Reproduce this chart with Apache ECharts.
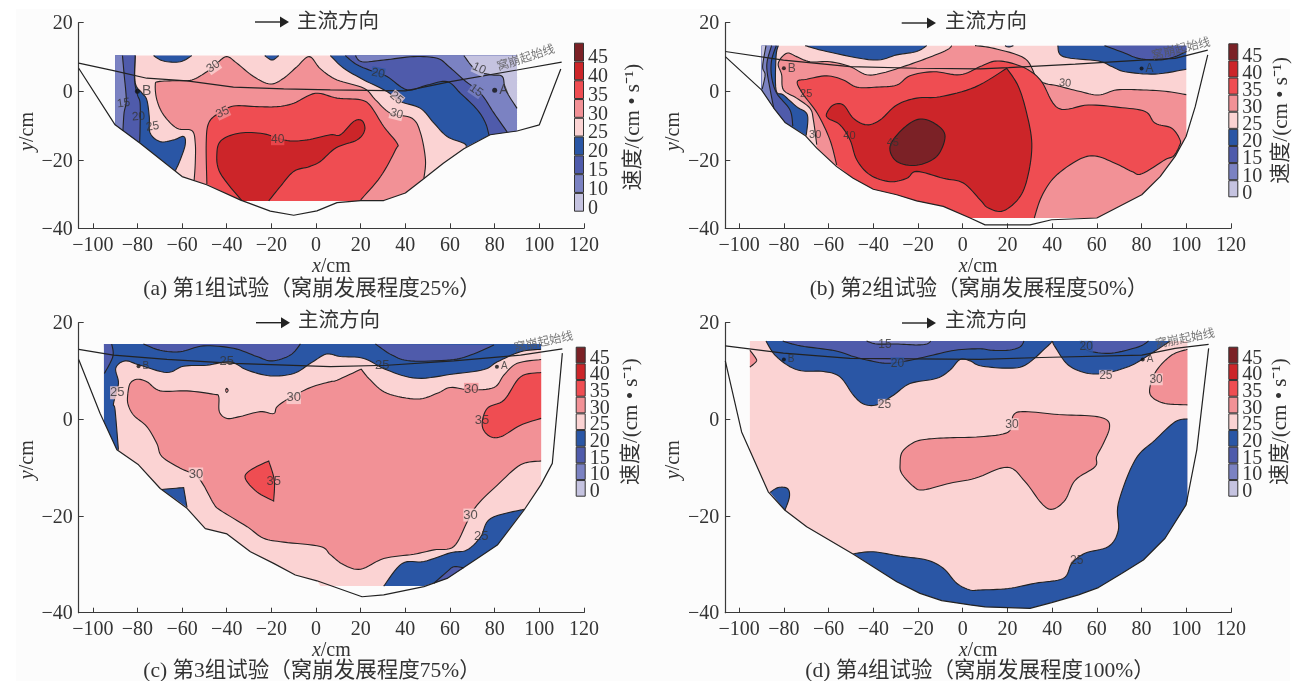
<!DOCTYPE html>
<html><head><meta charset="utf-8">
<style>html,body{margin:0;padding:0;background:#fff}#c{width:1305px;height:681px}</style>
<script src="https://cdn.jsdelivr.net/npm/echarts@6/dist/echarts.min.js"></script>
</head><body><div id="c"></div>
<script>
const legendLabels=['0','10','15','20','25','30','35','40','45'];
const legendValues=[1,1,1,1,1,1,1,1,1];
const bandColors={'0':'#c5c3e0','10':'#7b82c2','15':'#4f5bab','20':'#2a56a5','25':'#fbd3d3','30':'#f29196','35':'#ef4d52','40':'#cc2529','45':'#7b2126'};
const xTicks=[-100,-80,-60,-40,-20,0,20,40,60,80,100,120];
const captions=['(a) 第1组试验（窝崩发展程度25%）','(b) 第2组试验（窝崩发展程度50%）','(c) 第3组试验（窝崩发展程度75%）','(d) 第4组试验（窝崩发展程度100%）'];

/* ---------- panel a ---------- */
const a_section=[[-106.3,6.7],[-90,-9.8],[-78.8,-15.2],[-60,-24.9],[-49,-27.3],[-34,-31.7],[-20.5,-35],[-10,-36.2],[0.4,-34.9],[9.4,-32.5],[20,-31.9],[30.3,-31.9],[40,-29.7],[47.5,-25.9],[57,-21],[66.2,-16.8],[78,-12.7],[90,-11.6],[100,-9.8],[109.6,6.5]];
const a_start=[[-106.3,8.2],[-90.7,6],[-75.8,3.8],[-57.8,3],[-37,1.2],[-14.5,0.7],[6.4,0.4],[40,0.1],[60.2,2.8],[90,6.2],[110,8.5]];
const a_base=[[-90,10.4],[90,10.4],[90,-11.6],[78,-12.7],[66.2,-16.8],[57,-21],[47.5,-25.9],[40,-29.7],[30.3,-31.9],[20,-32],[-33,-32],[-49,-27.3],[-60,-24.9],[-78.8,-15.2],[-90,-9.8]];
const a_l25=[[-81,10.4],[-81,2.5],[-78,-0.5],[-75.8,-2.5],[-74.7,-7.4],[-74.3,-12.2],[-69.8,-14.7],[-63.8,-14.2],[-59.3,-13.2],[-58.6,-15.6],[-60.8,-20],[-63,-23.2]];
const a_l20=[[-81,10.4],[-81.3,3.3],[-80,-1],[-78.8,-3.5],[-78.8,-10.3],[-79,-14.9]];
const a_l15=[[-86.7,10.4],[-86,5.2],[-85,-2.5],[-86,-6.4],[-86.5,-11.6]];
const a_leftEdge25=[[-78.8,-15.2],[-90,-9.8],[-90,10.4]];
const a_leftEdge=[[-90,-9.8],[-90,10.4]];
const a_top1=[[-72.8,10.4],[-68.3,8.8],[-60.8,8.6],[-55.6,10.4]];
const a_top2=[[-23,10.4],[-19.7,9.1],[-16.7,10.4]];
const a_r25=[[6.4,10.4],[12.4,6.7],[21.4,3.3],[31.8,-0.1],[37.8,-3],[46.8,-5],[52.8,-9.3],[58.7,-13.2],[66.2,-15.2],[67.3,-16.2]];
const a_r25Edge=[[78,-12.7],[90,-11.6],[90,10.4]];
const a_r20=[[13.1,10.4],[18.4,7.7],[25.9,5.7],[31.8,4.3],[40.8,0.4],[49.8,1.8],[58.7,2.8],[64.7,-0.6],[72.2,-5.4],[75.9,-9.3],[77.4,-12.7]];
const a_r15=[[17.6,10.4],[20.6,8.6],[30.3,9.1],[43.8,10.1],[54.3,9.6],[59.5,7.2],[66.2,3.3],[73.7,-0.6],[79.7,-6.4],[85.6,-11.9]];
const a_r10=[[66.2,10.4],[71.5,6.2],[78.2,4.8],[83.4,4.3],[84.9,0.4],[90,-5]];
const a_rEdge=[[90,-11.6],[90,10.4]];
const a_rEdge10=[[90,10.4]];
const a_l30=[[-54.6,-26],[-54.1,-21],[-54.1,-15.2],[-55.6,-11.5],[-62.3,-10.8],[-68.3,-6.9],[-71.3,-2.5],[-72,1.8],[-70.6,2.8],[-62.3,3.1],[-55.6,3.3],[-48.9,5.7],[-44.4,8.2],[-40,10.1],[-35.5,8.2],[-28,4.3],[-20.5,2.1],[-14.5,3.8],[-8.5,7.2],[-3,10.1],[2,6.5],[9.4,3.3],[21.4,0.9],[26.6,-2.5],[33.3,-6.4],[43,-7.9],[46.8,-12.2],[49,-20],[48.3,-25.4]];
const a_e30=[[40,-29.7],[30.3,-31.9],[20,-32],[-33,-32],[-49,-27.3]];
const a_l35=[[-48.9,-27.1],[-49.2,-15.2],[-48.1,-9.3],[-43.6,-6.4],[-36.9,-4.3],[-26.5,-4.5],[-17.5,-4.5],[-10,-3.5],[-0.3,-0.6],[9.4,-2],[19.9,-2.5],[24.4,-4.3],[30.3,-10.3],[36.3,-15.2],[35.6,-17.1],[28.9,-24.9],[20,-31.7]];
const a_e35=[[20,-32],[-33,-32]];
const a_l40=[[-33.2,-32],[-42.9,-23.9],[-44.4,-18],[-42.2,-14.2],[-33.9,-12.2],[-23.5,-12.4],[-13,-14.4],[-4,-14.2],[6.4,-12.7],[10.9,-12.7],[16.9,-8.8],[20.6,-8.6],[21.8,-11.3],[18.4,-14.2],[9,-16.5],[1.9,-20.5],[-3,-22],[-10,-23.4],[-16,-27.8],[-21.2,-32]];
const a_labels=[[73,6.6,'10',-25,'0'],[71.7,0.2,'15',-35,'10'],[27.8,5.2,'20',-10,'20'],[36,-2,'25',-40,'25'],[36,-6.6,'30',-15,'25'],[-86.2,-3.5,'15',8,null],[-79.5,-7.4,'20',5,null],[-73.2,-10.3,'25',8,null],[-46,7.2,'30',35,'25'],[-41.8,-6.2,'35',25,'30'],[-17.2,-14,'40',0,'35']];
const a_points=[[80,0.3,'A'],[-80,0,'B']];

/* ---------- panel b ---------- */
const b_section=[[-106.2,10.1],[-90,0.4],[-84,-5.4],[-79.5,-9.1],[-70.5,-12.9],[-65.3,-16.6],[-56.4,-22],[-49,-25.4],[-40,-28.6],[-29.5,-30.2],[-20.6,-32],[-8.7,-33.6],[3.3,-37],[10,-39],[30.1,-39],[39.8,-37.5],[60,-37],[80.1,-30.2],[88.3,-24.9],[95,-19],[99.9,-13.2],[104,-4.5],[109.6,10.6]];
const b_start=[[-106.2,11.6],[-80.2,9.1],[-50.4,7.2],[-20.6,6.7],[7.8,6.5],[20.4,6.9],[50.3,7.9],[80.1,9.1],[95,9.6],[109.6,12]];
const b_base=[[-90,13.3],[100,13.3],[100,-13.2],[95,-19],[88.3,-24.9],[80.1,-30.2],[60,-37],[3.3,-37],[-8.7,-33.6],[-20.6,-32],[-29.5,-30.2],[-40,-28.6],[-49,-25.4],[-56.4,-22],[-65.3,-16.6],[-70.5,-12.9],[-79.5,-9.1],[-84,-5.4],[-90,0.4]];
const b_l25=[[-82.5,13.3],[-83.5,10.1],[-83.5,0.4],[-80.2,-1.1],[-74.3,-4.5],[-69.5,-6.9],[-70,-12.9]];
const b_e25=[[-79.5,-9.1],[-84,-5.4],[-90,0.4],[-90,13.3]];
const b_l20=[[-83.4,13.3],[-85.5,9],[-85.5,4.3],[-83.2,-0.6],[-77.3,-5.4],[-76,-10.2]];
const b_e20=[[-79.5,-9.1],[-84,-5.4],[-90,0.4],[-90,13.3]];
const b_l15=[[-85.5,13.3],[-87.4,9],[-87.5,5.7],[-86,0],[-84.5,-5]];
const b_e15=[[-90,0.4],[-90,13.3]];
const b_l10=[[-88,13.3],[-89.5,7.2],[-88.4,4.8],[-89.7,0.6]];
const b_e10=[[-90,13.3]];
const b_top1=[[-70.5,13.3],[-60.9,11.6],[-40,9.1],[-29.5,10.6],[-20.6,11.6],[-16.1,13.3]];
const b_top2=[[18.9,13.3],[20.5,12.9],[22.7,13.3]];
const b_r25=[[42.5,13.3],[45,10.1],[60.7,8.8],[66.7,7.2],[72.6,5.7],[86,5],[100,6.4]];
const b_re=[[100,13.3]];
const b_r20=[[63.4,13.3],[72.6,11.1],[78.6,9.6],[87.6,9.1],[95,10.1],[100,11.6]];
const b_l30=[[-4.9,13.3],[-7.2,12],[-16.1,9.6],[-26.5,7.2],[-35.5,5.4],[-43,4.8],[-50.4,7.2],[-59.4,8.6],[-68.3,8.6],[-74.3,10.1],[-78.7,11.1],[-82.5,8.2],[-81,4.8],[-80.2,0.4],[-74.3,-2],[-68.3,-5],[-66.8,-8.4],[-65.3,-15.6],null,[100,-1],[90.5,0],[79.5,0.4],[69,0.4],[60.7,-1.1],[52,0],[43,1.5],[34,3.2],[27.9,9.5],[14,12.5],[5.5,13.3]];
const b_e30=[[-65.3,-16.6],[-56.4,-22],[-49,-25.4],[-40,-28.6],[-29.5,-30.2],[-20.6,-32],[-8.7,-33.6],[3.3,-37],[60,-37],[80.1,-30.2],[88.3,-24.9],[95,-19],[100,-13.2]];
const b_l35=[[-56.4,-21.5],[-59.4,-14.2],[-65,-6.5],[-71.7,-0.6],[-74,2.8],[-69.8,3.5],[-60.8,4.5],[-53.4,3.3],[-47.4,1.2],[-38.5,1.2],[-29.5,1.8],[-23.6,4.5],[-13.1,5.7],[-1.2,4.8],[7.8,7.2],[14.5,8.8],[21.9,8.2],[29.4,6.2],[35.3,2.8],[42.8,-5],[56.2,-4],[69.7,-4.7],[81.6,-5.9],[86,-9.3],[93.5,-10.8],[97.2,-14.2],[96.8,-16.1],[94.3,-18.9],[90.5,-20],[80.1,-24.1],[75.6,-23.4],[68.1,-21],[59.2,-18.9],[51.8,-20],[41.3,-24.9],[35.3,-30.7],[32,-37]];
const b_e35=[[3.3,-37],[-8.7,-33.6],[-20.6,-32],[-29.5,-30.2],[-40,-28.6],[-49,-25.4]];
const b_l40=[[-60.8,-6.4],[-57.9,-4],[-53.4,-4],[-48.9,-7.9],[-43,-9.8],[-37,-8.4],[-29.5,-4],[-20.6,-2],[-10.1,-1.6],[5.5,1.2],[19.7,6.7],[19.7,6.7],[24.9,1.4],[28.6,-6.4],[30.9,-15.2],[29.4,-24],[25.7,-30.7],[18.2,-34.9],[11.5,-34.1],[7.8,-31.7],[0.3,-26.8],[-8.7,-25.4],[-20.6,-23.4],[-25,-25.4],[-32.5,-26.4],[-41.5,-24.4],[-47.4,-20],[-50.4,-14.2],[-54.9,-9.8],[-60.2,-7.9]];
const b_l45=[[-32.5,-16.1],[-26.5,-10.8],[-19.1,-8.1],[-11.6,-9.8],[-7.9,-13.2],[-11.6,-19],[-20.6,-21.6],[-29.5,-20.5]];
const b_labels=[[-70,-0.8,'25',0,null],[-66,-12.7,'30',0,null],[-50.7,-13,'40',0,null],[-31.3,-15.2,'45',0,null],[45.8,2.3,'30',-5,null]];
const b_points=[[80,6.6,'A'],[-80,6.7,'B']];

/* ---------- panel c ---------- */
const c_section=[[-106.3,12.4],[-96.7,1.2],[-89.2,-6.3],[-79.5,-9.4],[-69.8,-14.3],[-57.8,-18.4],[-49.6,-22.6],[-39.9,-23.7],[-29.4,-27.4],[-19,-29.8],[-9.3,-32.2],[0.4,-33.4],[20.6,-36.7],[30.3,-36.3],[48.3,-34.6],[58.7,-32.9],[72.2,-28.8],[81.2,-26],[93.1,-18.8],[100.6,-13.6],[105.8,-9.1],[110.3,13.7]];
const c_start=[[-106.3,14.5],[-90.7,13.3],[-66.8,12.4],[-36.9,11.6],[6.4,10.9],[32,11.2],[61.7,12.1],[91.6,13.3],[110.3,14.6]];
const c_base=[[-95,15.6],[100.8,15.6],[100.8,-13.6],[93.1,-18.8],[81.2,-26],[72.2,-28.8],[58.7,-32.9],[48.3,-34.5],[2,-34.5],[0.4,-33.4],[-9.3,-32.2],[-19,-29.8],[-29.4,-27.4],[-39.9,-23.7],[-49.6,-22.6],[-57.8,-18.4],[-69.8,-14.3],[-79.5,-9.4],[-89.2,-6.3],[-95,-0.5]];
const c_l25=[[-88.5,-6.3],[-90,1.9],[-90.7,3.3],[-88.5,7.4],[-89.7,10.6],[-85.5,12.1],[-78.8,11.2],[-66.8,9.7],[-59.3,11],[-48.9,11.2],[-38.4,11.9],[-30.9,10.2],[-20.5,9],[-10,9.5],[-2.5,11.6],[3.4,13.3],[6.4,13.5],[11,13],[21.4,12.6],[31.8,10.2],[45.3,8.5],[61.7,9.4],[75.2,10.3],[81.2,11.9],[91.6,14],[100.8,14.5]];
const c_e25=[[100.8,15.6],[-95,15.6],[-95,-0.5],[-89.2,-6.3]];
const c_t1=[[-77.3,15.6],[-69.8,14.3],[-60.8,14],[-50.4,15.2],[-36.9,14.7],[-26.5,13],[-19.7,12.1],[-11.5,13.3],[-7,15.6]];
const c_t2=[[26.6,15.6],[34,13.3],[42.3,12.1],[60.2,12.3],[69.2,13.3],[79.7,15.4]];
const c_t3=[[-91.5,15.6],[-91,13],[-94.8,9.5]];
const c_t3e=[[-95,15.6]];
const c_l30=[[-84.3,5.4],[-83.3,7.4],[-80.3,8.3],[-75.8,7.8],[-69.8,5.9],[-57.8,5.9],[-45.9,5.2],[-43.6,4.7],[-43.3,1.6],[-39.9,0.2],[-33.9,0.6],[-25,1.6],[-19,1.2],[-17.5,2.6],[-12.3,4.3],[-2.5,6.6],[6.4,7.8],[9.4,8.1],[20.2,10.4],[20.2,10.4],[24.4,8.1],[31.8,5.4],[45.3,4.2],[54.3,5.4],[60.2,6.6],[69.2,6.1],[79.7,6.6],[84.2,9.2],[90.1,11.6],[100.8,12.4],null,[100.8,-8.6],[91.6,-9.4],[81.2,-13.6],[72.2,-17.7],[67.7,-21.2],[61.7,-26.3],[52.8,-27],[43.8,-27.9],[30.3,-28.8],[20,-31],[12.4,-30.1],[6.4,-28],[1.9,-26.3],[-14.5,-25.4],[-23.5,-24.6],[-30.9,-22.2],[-42.9,-18.8],[-45.9,-17.4],[-50.4,-13.6],[-54.1,-11.5],[-60.8,-10.1],[-69,-7.7],[-71.3,-5],[-75.8,-1.5],[-81.8,0.9],[-84.3,3.3],[-84.3,5.4]];
const c_l35a=[[-31.7,-12.2],[-29.4,-10.5],[-21.2,-8.6],[-21.2,-8.6],[-18.7,-12.6],[-19,-16.9],[-19,-16.9],[-26.5,-15]];
const c_l35b=[[100.8,0.2],[91.6,-1.2],[82.7,-3.6],[77.4,-3.4],[74.4,-1.2],[76.7,2.3],[84.2,4],[91.6,8.8],[100.8,9.7]];
const c_b1=[[30.3,-34.5],[38.6,-29.8],[48.3,-29.4],[60.2,-27.6],[67.7,-27],[73.7,-24.3],[78.2,-20.5],[93.1,-18.6]];
const c_b1e=[[81.2,-26],[72.2,-28.8],[58.7,-32.9],[48.3,-34.5]];
const c_b2=[[52.8,-33.9],[58.7,-31.5],[61.7,-30.5],[66.2,-30.7]];
const c_b2e=[[58.7,-32.9]];
const c_b3=[[-69,-14.5],[-69,-14.5],[-59.3,-14.1],[-59.3,-14.1],[-57.8,-18.2],[-57.8,-18.2]];
const c_dot=[[-40.5,6],[-40,6.4],[-39.4,6],[-40,5.6]];
const c_labels=[[-89,5.5,'25',0,'25'],[-53.8,-11.3,'30',0,'25'],[-19,-12.8,'35',0,null],[-10,4.5,'30',0,'25'],[-40,11.9,'25',0,null],[29.6,11.1,'25',0,null],[69.5,6.2,'30',0,'30'],[74.3,-0.3,'35',0,null],[69.2,-19.8,'30',0,'25'],[74,-24.3,'25',0,null]];
const c_points=[[81,10.9,'A'],[-79.5,11,'B']];

/* ---------- panel d ---------- */
const d_section=[[-106.2,12.1],[-98.9,-2.6],[-87,-15],[-79.5,-18.8],[-69.8,-22.2],[-48.9,-27.9],[-29.5,-33.6],[-19.1,-36],[-9.4,-37.5],[3.3,-38.4],[10,-38.8],[30.1,-39.1],[39.8,-37.9],[51.8,-36.3],[60.7,-34.8],[71.1,-31.9],[80.8,-29.1],[90.5,-24.6],[99.9,-17.7],[104.7,-6.3],[110,14.7]];
const d_start=[[-106.2,15.2],[-80.2,13.7],[-50.4,12.6],[7.8,12.4],[35.3,12.8],[80.1,13.3],[95,14.7],[110,15.5]];
const d_base=[[-95.2,16.2],[100.5,16.2],[100.5,-17],[99.9,-17.7],[90.5,-24.6],[80.8,-29.1],[71.1,-31.9],[60.7,-34.8],[51.8,-36.3],[39.8,-37.9],[30.1,-39.1],[10,-38.8],[3.3,-38.4],[-9.4,-37.5],[-19.1,-36],[-29.5,-33.6],[-48.9,-27.9],[-69.8,-22.2],[-79.5,-18.8],[-87,-15],[-95.2,-6.5]];
const d_s1=[[-95.2,14.3],[-92.5,12.6],[-92.5,11.9],[-95.2,10.8]];
const d_t1=[[-88,16.2],[-84,13.3],[-77.3,10.9],[-71.3,10],[-62.3,9.9],[-54.9,8.8],[-48.9,5],[-44.4,3.2],[-38.5,3],[-31,5],[-23.6,7.4],[-11.6,8.5],[-5.7,10.2],[-1.2,12.4],[3.3,12.1],[7.8,11.1],[18.9,10.6],[27.9,11.2],[37.6,15],[40.1,16.2]];
const d_t2=[[40.1,16.2],[41.3,15],[47.3,11.2],[56.2,9.5],[65.2,9.7],[75.6,11.2],[84.6,13.7],[92.8,16.2]];
const d_p1=[[-80.5,16.2],[-72.5,15.2],[-57.1,14.2],[-48.9,13],[-43,12.3],[-34,11.6],[-25,12.1],[-16.1,13],[-3.4,14.3],[7.8,14.6],[13,14.3],[20.4,14.3],[25.6,15],[27.4,16.2]];
const d_p2=[[53,16.2],[54.7,14.7],[57.7,14],[66.7,13.7],[78.6,15],[83.1,16.2]];
const d_q1=[[-43,16.2],[-38.5,15.6],[-30,15.6],[-20.6,15.4],[-16.1,15.6],[-14.3,16.2]];
const d_l30a=[[-28,-9.1],[-27,-6.7],[-22,-4.8],[-16.1,-4.1],[-5.7,-3.8],[7.8,-3.6],[20.4,-2.6],[22.7,0.9],[27.9,1.6],[42.8,1],[57.7,0.7],[64.4,-0.1],[65.6,-1.9],[62.9,-5],[59.9,-7.7],[59.2,-9.8],[50.3,-12.6],[45.8,-16.7],[40.1,-18.6],[35.3,-17.4],[27.9,-12.9],[20,-9.9],[5.5,-12.2],[-5.7,-13.2],[-17.6,-14.6],[-22,-13.9],[-27.3,-11.2]];
const d_l30b=[[100.5,14.5],[93.5,13.3],[86.8,10.2],[83.8,6.8],[84.5,4.7],[90.5,3.3],[100.5,3]];
const d_b1=[[100.5,0.1],[95,-0.5],[86,-4.3],[77.1,-8.4],[69.6,-17.4],[69.6,-22.9],[65.2,-26.3],[54.7,-27.7],[48.8,-29.8],[45,-32.9],[32.4,-33.9],[20.4,-35],[7.8,-35.3],[3.3,-35.3],[-2.7,-33.9],[-8.7,-30.8],[-16.1,-29.1],[-28,-28.3],[-40,-27.4],[-48.9,-27.8]];
const d_b1e=[[-29.5,-33.6],[-19.1,-36],[-9.4,-37.5],[3.3,-38.4],[10,-38.8],[30.1,-39.1],[39.8,-37.9],[51.8,-36.3],[60.7,-34.8],[71.1,-31.9],[80.8,-29.1],[90.5,-24.6],[99.9,-17.7],[100.5,-17]];
const d_b2=[[-86.2,-15.1],[-82.5,-14.1],[-78.4,-14.3],[-77.5,-16],[-79.5,-18.8]];
const d_labels=[[-34.8,15.4,'15',0,null],[-29.2,11.6,'20',0,'20'],[-35,3,'25',0,'25'],[55.2,15,'20',0,'20'],[64,9,'25',0,'25'],[86.5,8.3,'30',0,'25'],[22,-1,'30',0,'25'],[51,-29.2,'25',0,null]];
const d_points=[[80.5,12.4,'A'],[-80,12.4,'B']];

const startLabels=[[94,9.6,18],[97.7,12.2,14],[102,15.9,12],[99.5,16.6,11]];

const SERIF='"Liberation Serif","Noto Sans CJK SC",serif';
const NARROW='"Liberation Sans Narrow","Liberation Sans",sans-serif';
const DARK='#3a3a3a';

/* [band, contour (null = pen up), closing edge, edge used at the pen-up] */
const panelBands=[
 [['25',[],a_base],['20',a_l25,a_leftEdge25],['15',a_l20,a_leftEdge],['10',a_l15,a_leftEdge],['20',a_top1,[]],['20',a_top2,[]],
  ['20',a_r25,a_r25Edge],['15',a_r20,a_rEdge],['10',a_r15,a_rEdge],['0',a_r10,a_rEdge10],['30',a_l30,a_e30],['35',a_l35,a_e35],['40',a_l40,[]]],
 [['25',[],b_base],['20',b_l25,b_e25],['15',b_l20,b_e20],['10',b_l15,b_e15],['0',b_l10,b_e10],['20',b_top1,[]],['20',b_top2,[]],['20',b_r25,b_re],['15',b_r20,b_re],
  ['30',b_l30,[],b_e30],['35',b_l35,b_e35],['40',b_l40,[]],['45',b_l45,[]]],
 [['25',[],c_base],['20',c_l25,c_e25],['15',c_t1,[]],['15',c_t2,[]],['15',c_t3,c_t3e],['30',c_l30,[]],['35',c_l35a,[]],['35',c_l35b,[]],['20',c_b1,c_b1e],['15',c_b2,c_b2e],['20',c_b3,[]],['30',c_dot,[]]],
 [['25',[],d_base],['30',d_s1,[]],['20',d_t1,[]],['20',d_t2,[]],['15',d_p1,[]],['15',d_p2,[]],['10',d_q1,[]],['30',d_l30a,[]],['30',d_l30b,[]],['20',d_b1,d_b1e],['20',d_b2,[]]]
];
const closedLines=new Set([b_l40,b_l45,c_l35a,c_dot,d_l30a]);
const sections=[a_section,b_section,c_section,d_section];
const starts=[a_start,b_start,c_start,d_start];
const labelSets=[a_labels,b_labels,c_labels,d_labels];
const pointSets=[a_points,b_points,c_points,d_points];

const grids=[{l:78.7,r:584,t:22.7,b:228.3},{l:725.3,r:1231,t:22.7,b:228.3},{l:78.7,r:584,t:322.7,b:612.7},{l:725.3,r:1231,t:322.7,b:612.7}];
const xMins=[-106.3,-106.2,-106.3,-106.2];
const legendBoxes=[{l:574,r:584,t:42.7,b:211.7,pad:12,gap:39},{l:1228.3,r:1238.3,t:43.3,b:197.3,pad:9.4,gap:33},{l:575.7,r:585.7,t:346.7,b:496.7,pad:6.8,gap:35},{l:1228.3,r:1238.3,t:346.7,b:496.7,pad:6.8,gap:32}];
const flowArrows=[[255,289,22,297,23],[901.7,936,23,945,23],[256,290,322.7,298,322],[902,936,323,945,322]];
const captionPos=[[307,274],[974,274],[307,656],[975,656]];

function same(a,b){return a[0]===b[0]&&a[1]===b[1];}
function smooth(pts,closed){
  const n=pts.length; if(n<3) return pts.slice();
  const out=[],segs=closed?n:n-1;
  for(let i=0;i<segs;i++){
    const p0=pts[closed?(i-1+n)%n:Math.max(i-1,0)],p1=pts[i],p2=pts[(i+1)%n],p3=pts[closed?(i+2)%n:Math.min(i+2,n-1)];
    if(same(p1,p2)) continue;
    for(let k=0;k<8;k++){
      const t=k/8,t2=t*t,t3=t2*t;
      out.push([0,1].map(j=>0.5*(2*p1[j]+(p2[j]-p0[j])*t+(2*p0[j]-5*p1[j]+4*p2[j]-p3[j])*t2+(3*p1[j]-p0[j]-3*p2[j]+p3[j])*t3)));
    }
  }
  if(!closed) out.push(pts[n-1]);
  return out;
}
function splitLine(line){
  const segs=[];let cur=[];
  line.forEach(p=>{if(p===null){if(cur.length)segs.push(cur);cur=[];}else cur.push(p);});
  if(cur.length)segs.push(cur);
  return segs;
}
const option={backgroundColor:'#fff',animation:false,grid:[],xAxis:[],yAxis:[],series:[],title:[],graphic:[]};
option.graphic.push({type:'rect',z:-10,silent:true,shape:{x:16,y:9,width:1274,height:672},style:{fill:'#fcfcfc'}});

grids.forEach((g,i)=>{
  const mi=i*2,gi=i*2+1;
  option.grid.push({left:g.l,top:g.t,width:g.r-g.l,height:g.b-g.t});
  option.xAxis.push({type:'value',gridIndex:mi,min:xMins[i],max:120,
    axisLine:{onZero:false,lineStyle:{color:DARK,width:1.2}},
    axisTick:{inside:true,length:5,customValues:xTicks,lineStyle:{color:DARK}},
    axisLabel:{customValues:xTicks,margin:7,fontFamily:SERIF,fontSize:20,color:'#333',formatter:v=>String(v).replace('-','−')},
    splitLine:{show:false},
    name:'{i|x}/cm',nameLocation:'middle',nameGap:i<2?28:25,
    nameTextStyle:{fontFamily:SERIF,fontSize:20,color:'#333',rich:{i:{fontFamily:SERIF,fontSize:20,fontStyle:'italic',color:'#333'}}}});
  option.yAxis.push({type:'value',gridIndex:mi,min:-40,max:20,interval:20,
    axisLine:{onZero:false,lineStyle:{color:DARK,width:1.2}},
    axisTick:{inside:true,length:5,lineStyle:{color:DARK}},
    axisLabel:{margin:6,fontFamily:SERIF,fontSize:20,color:'#333',formatter:v=>'{t|'+String(v).replace('-','−')+'}',rich:{t:{fontFamily:SERIF,fontSize:20,color:'#333',padding:[3,0,0,0]}}},
    splitLine:{show:false},
    name:'{i|y}/cm',nameLocation:'middle',nameGap:41,nameRotate:90,
    nameTextStyle:{fontFamily:SERIF,fontSize:20,color:'#333',padding:i<2?[0,12,0,0]:[0,0,0,16],rich:{i:{fontFamily:SERIF,fontSize:20,fontStyle:'italic',color:'#333'}}}});

  const bands=panelBands[i];
  option.series.push({type:'custom',xAxisIndex:mi,yAxisIndex:mi,z:2,silent:true,clip:false,
    data:bands.map((b,k)=>[k]),encode:{x:0},
    renderItem:(params,api)=>{
      const b=bands[params.dataIndex],color=bandColors[b[0]],closed=closedLines.has(b[1]);
      const pxSegs=splitLine(b[1]).map(s=>smooth(s.map(p=>api.coord(p)),closed));
      let fill=[];
      pxSegs.forEach((s,si)=>{
        fill=fill.concat(s);
        if(si===0&&b[3]) fill=fill.concat(b[3].map(p=>api.coord(p)));
      });
      fill=fill.concat(b[2].map(p=>api.coord(p)));
      const children=[{type:'polygon',silent:true,shape:{points:fill},style:{fill:color,stroke:null}}];
      pxSegs.forEach(s=>{
        children.push({type:'polyline',silent:true,shape:{points:closed?s.concat([s[0]]):s},style:{fill:null,stroke:'#222',lineWidth:1.1}});
      });
      return {type:'group',children};
    }});
  [sections[i],starts[i]].forEach(line=>{
    option.series.push({type:'line',xAxisIndex:mi,yAxisIndex:mi,z:4,data:line,showSymbol:false,symbol:'none',silent:true,clip:false,
      lineStyle:{color:'#222',width:1.2}});
  });
  option.series.push({type:'scatter',xAxisIndex:mi,yAxisIndex:mi,z:5,symbolSize:0,silent:true,
    data:labelSets[i].map(l=>({value:[l[0],l[1]],label:{show:true,position:'inside',formatter:l[2],rotate:l[3],
      fontFamily:NARROW,fontSize:i===1?11:(i===2?13:12),color:'#333',
      backgroundColor:l[4]?bandColors[l[4]]:'transparent',padding:0}}))});
  option.series.push({type:'scatter',xAxisIndex:mi,yAxisIndex:mi,z:5,symbol:'circle',symbolSize:i===0?5:4,silent:true,itemStyle:{color:'#111'},
    data:pointSets[i].map(p=>({value:[p[0],p[1]],label:{show:true,position:'right',distance:2,formatter:p[2],
      fontFamily:NARROW,fontSize:i===0?14:(i===1?12:10),color:'#333'}}))});
  const s=startLabels[i];
  option.series.push({type:'scatter',xAxisIndex:mi,yAxisIndex:mi,z:5,symbolSize:0,silent:true,
    data:[{value:[s[0],s[1]],label:{show:true,position:'inside',formatter:'窝崩起始线',rotate:s[2],fontFamily:SERIF,fontSize:12,color:'#555'}}]});

  /* colour bar */
  const lb=legendBoxes[i];
  option.grid.push({left:lb.l,top:lb.t,width:lb.r-lb.l,height:lb.b-lb.t});
  option.xAxis.push({type:'value',gridIndex:gi,min:0,max:1,show:false});
  option.yAxis.push({type:'category',gridIndex:gi,position:'right',data:legendLabels,
    axisLine:{show:false},axisTick:{show:false},
    axisLabel:{margin:4,interval:0,verticalAlign:'middle',formatter:v=>'{n|'+v+'}',
      rich:{n:{fontFamily:SERIF,fontSize:20,color:'#333',padding:[lb.pad,0,0,0]}}},
    name:'速度/(cm • s⁻¹)',nameLocation:'middle',nameRotate:90,nameGap:lb.gap,
    nameTextStyle:{fontFamily:SERIF,fontSize:21,color:'#333'}});
  option.series.push({type:'bar',xAxisIndex:gi,yAxisIndex:gi,barWidth:'100%',silent:true,z:3,
    data:legendValues.map((v,k)=>({value:v,itemStyle:{color:bandColors[legendLabels[k]],borderColor:'#333',borderWidth:1}}))});

  /* caption */
  option.title.push({text:captions[i],left:captionPos[i][0],top:captionPos[i][1],textAlign:'center',
    textStyle:{fontFamily:SERIF,fontSize:21.5,fontWeight:'normal',color:'#333'}});

  /* flow direction annotation */
  const f=flowArrows[i];
  option.graphic.push({type:'line',silent:true,shape:{x1:f[0],y1:f[2],x2:f[1]-6,y2:f[2]},style:{stroke:'#222',lineWidth:1.4}});
  option.graphic.push({type:'polygon',silent:true,shape:{points:[[f[1]-9,f[2]-5.5],[f[1],f[2]],[f[1]-9,f[2]+5.5]]},style:{fill:'#222'}});
  option.graphic.push({type:'text',silent:true,x:f[3],y:f[4],style:{text:'主流方向',font:'20.5px '+SERIF,fill:'#333',verticalAlign:'middle'}});
});
echarts.init(document.getElementById('c')).setOption(option);
</script></body></html>
